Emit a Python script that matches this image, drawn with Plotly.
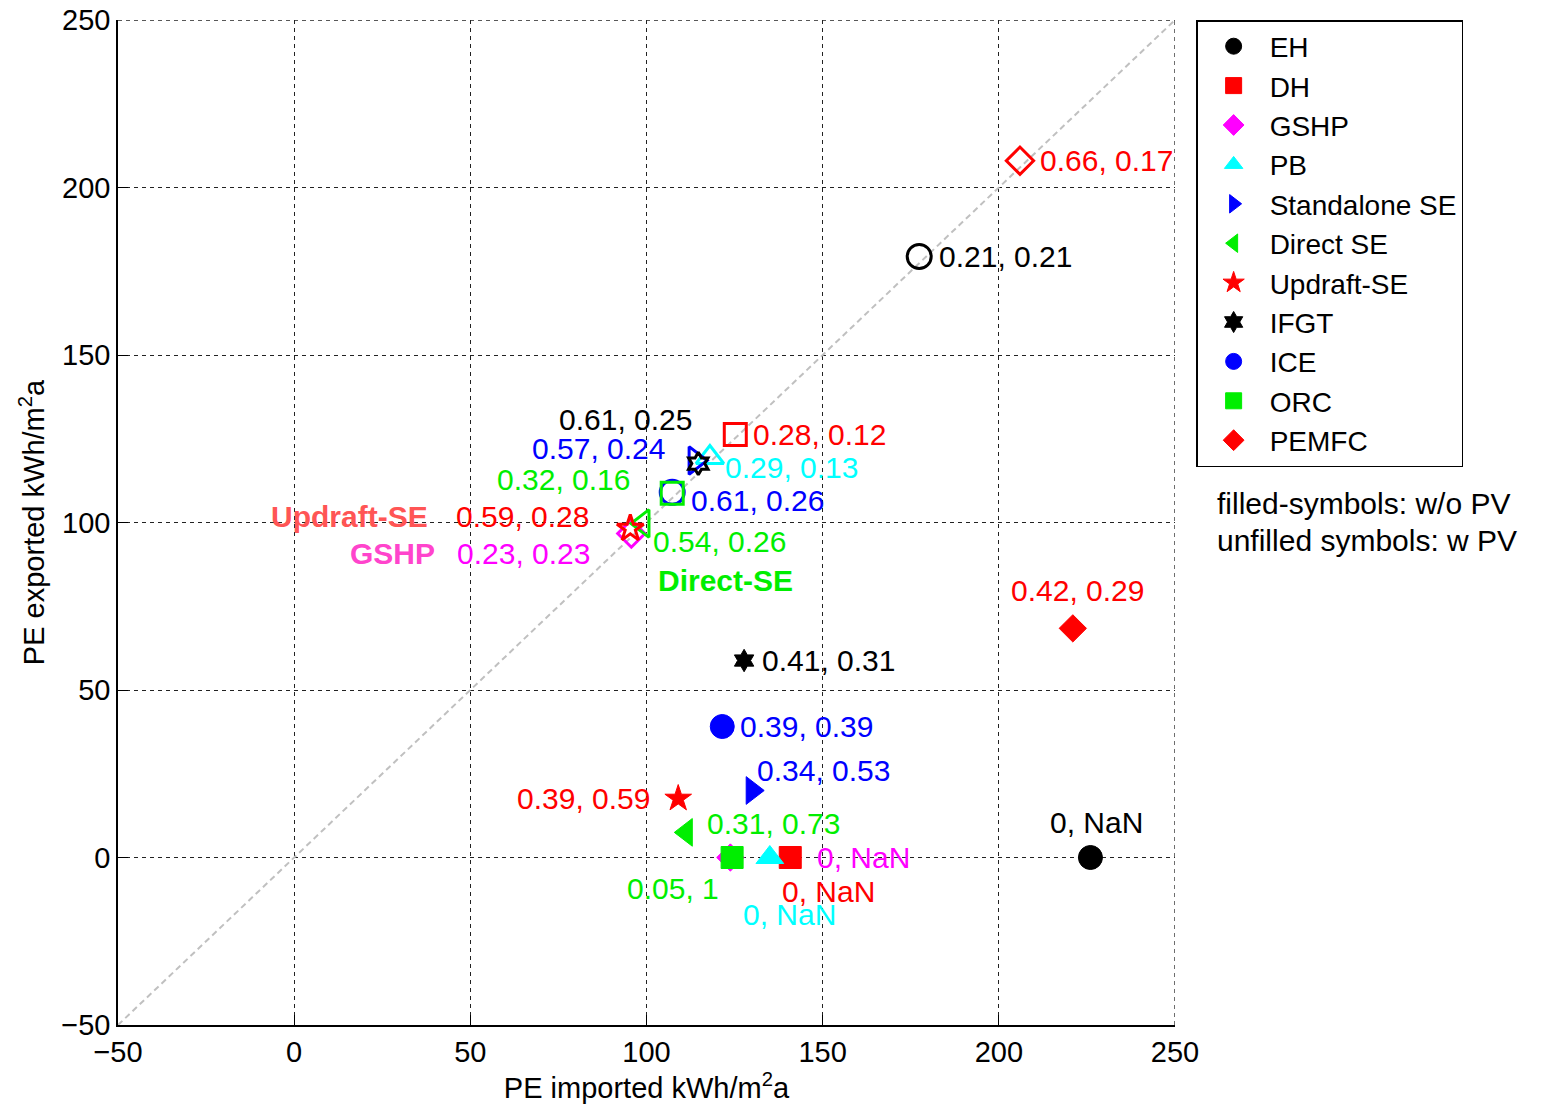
import plotly.graph_objects as go

# ---------------- data ----------------
systems = ["EH", "DH", "GSHP", "PB", "Standalone SE", "Direct SE",
           "Updraft-SE", "IFGT", "ICE", "ORC", "PEMFC"]

# without PV (filled symbols)
imp_noPV = [226, 140.8, 123.8, 135, 130, 111.3, 109, 127.7, 121.5, 124.3, 221]
exp_noPV = [0, 0, 0, 0, 20, 7.5, 17.6, 58.8, 39.1, 0, 68.4]
lab_noPV = ["0, NaN", "0, NaN", "0, NaN", "0, NaN", "0.34, 0.53", "0.31, 0.73",
            "0.39, 0.59", "0.41, 0.31", "0.39, 0.39", "0.05, 1", "0.42, 0.29"]

# with PV (unfilled symbols)
imp_PV = [177.4, 125.2, 95.7, 118, 113.8, 99, 95.4, 114.7, 107.3, 107.3, 206]
exp_PV = [179.4, 126.3, 96.7, 119.4, 118.5, 99.7, 98.2, 117.6, 109, 108.7, 208]
lab_PV = ["0.21, 0.21", "0.28, 0.12", "0.23, 0.23", "0.29, 0.13", "0.57, 0.24",
          "0.54, 0.26", "0.59, 0.28", "0.61, 0.25", "0.61, 0.26", "0.32, 0.16",
          "0.66, 0.17"]

# bold name labels attached to with-PV points
name_labels = {"Updraft-SE": "Updraft-SE", "GSHP": "GSHP", "Direct SE": "Direct-SE"}

diag = [-50, 250]
ticks = [-50, 0, 50, 100, 150, 200, 250]

# ---------------- styles ----------------
colors = ["#000000", "#ff0000", "#ff00ff", "#00ffff", "#0000ff", "#00ee00",
          "#ff0000", "#000000", "#0000ff", "#00ee00", "#ff0000"]
symbols = ["circle", "square", "diamond", "triangle-up", "triangle-right",
           "triangle-left", "star", "hexagram", "circle", "square", "diamond"]
sizes = [24, 22, 21, 24, 24, 24, 20, 17, 24, 22, 21]

# label placement (anchor, xshift px, yshift px)
pos_noPV = [("center", 6, 35), ("center", 38, -34), ("left", 85, 0),
            ("center", 20, -57), ("left", 3, 20), ("left", 19, 9),
            ("right", -26, 0), ("left", 16, 0), ("left", 16, 0),
            ("center", -59, -31), ("center", 5, 38)]
pos_PV = [("left", 18, 0), ("left", 16, 0), ("right", -39, -20),
          ("left", 13, -10), ("right", -28, 12), ("left", 8, -18),
          ("right", -39, 12), ("center", -73, 44), ("left", 17, -8),
          ("right", -40, 14), ("left", 18, 0)]
pos_names = {"Updraft-SE": ("right", -200, 12, "#ff5555"),
             "GSHP": ("right", -194, -20, "#ff44cc"),
             "Direct SE": ("left", 13, -57, "#00ee00")}

FONT = "Liberation Sans, Arial, sans-serif"
FS = 30
TFS = 29
GRID = dict(color="#222222", width=1.3, dash="4px,4px")

fig = go.Figure()

fig.add_trace(go.Scatter(x=diag, y=diag, mode="lines", showlegend=False,
                         line=dict(color="#c0c0c0", width=2, dash="6px,4px"),
                         hoverinfo="skip"))

for i, name in enumerate(systems):
    fig.add_trace(go.Scatter(
        x=[imp_noPV[i]], y=[exp_noPV[i]], mode="markers", name=name,
        marker=dict(symbol=symbols[i], size=sizes[i], color=colors[i],
                    line=dict(color=colors[i], width=1))))
    fig.add_trace(go.Scatter(
        x=[imp_PV[i]], y=[exp_PV[i]], mode="markers", name=name + " (PV)",
        showlegend=False,
        marker=dict(symbol=symbols[i] + "-open", size=sizes[i], color=colors[i],
                    line=dict(color=colors[i], width=3))))

annotations = []
for i, name in enumerate(systems):
    a, xs, ys = pos_noPV[i]
    annotations.append(dict(x=imp_noPV[i], y=exp_noPV[i], xref="x", yref="y",
                            text=lab_noPV[i], showarrow=False, xanchor=a,
                            yanchor="middle", xshift=xs, yshift=ys,
                            font=dict(color=colors[i], size=FS, family=FONT)))
    a, xs, ys = pos_PV[i]
    annotations.append(dict(x=imp_PV[i], y=exp_PV[i], xref="x", yref="y",
                            text=lab_PV[i], showarrow=False, xanchor=a,
                            yanchor="middle", xshift=xs, yshift=ys,
                            font=dict(color=colors[i], size=FS, family=FONT)))
    if name in name_labels:
        a, xs, ys, c = pos_names[name]
        annotations.append(dict(x=imp_PV[i], y=exp_PV[i], xref="x", yref="y",
                                text="<b>" + name_labels[name] + "</b>",
                                showarrow=False, xanchor=a, yanchor="middle",
                                xshift=xs, yshift=ys,
                                font=dict(color=c, size=FS, family=FONT)))

annotations.append(dict(x=1.0378, y=0.5194, xref="paper", yref="paper",
                        text="filled-symbols: w/o PV", showarrow=False,
                        xanchor="left", yanchor="middle",
                        font=dict(color="black", size=30, family=FONT)))
annotations.append(dict(x=1.0378, y=0.4816, xref="paper", yref="paper",
                        text="unfilled symbols: w PV", showarrow=False,
                        xanchor="left", yanchor="middle",
                        font=dict(color="black", size=30, family=FONT)))

# grid lines on the top / right edges (tick value 250)
shapes = [
    dict(type="line", xref="paper", yref="y", x0=0, x1=1,
         y0=ticks[-1], y1=ticks[-1], line=GRID, layer="below"),
    dict(type="line", xref="x", yref="paper", x0=ticks[-1], x1=ticks[-1],
         y0=0, y1=1, line=GRID, layer="below"),
]

axis_common = dict(range=[-50, 250], tickvals=ticks, ticks="inside", ticklen=10,
                   tickcolor="black", showline=True, linecolor="black",
                   linewidth=1.5, showgrid=True, gridcolor=GRID["color"],
                   gridwidth=GRID["width"], griddash=GRID["dash"],
                   zeroline=False, automargin=False,
                   ticklabeloverflow="allow",
                   tickfont=dict(size=TFS, color="black", family=FONT))

fig.update_layout(
    width=1543, height=1104,
    margin=dict(l=110, r=376, t=12, b=87, autoexpand=False),
    paper_bgcolor="white", plot_bgcolor="white",
    font=dict(family=FONT, size=FS, color="black"),
    xaxis=dict(**axis_common,
               title=dict(text="PE imported kWh/m<sup>2</sup>a", standoff=2,
                          font=dict(size=TFS, color="black", family=FONT))),
    yaxis=dict(**axis_common,
               title=dict(text="PE exported kWh/m<sup>2</sup>a", standoff=8,
                          font=dict(size=TFS, color="black", family=FONT))),
    legend=dict(x=1.02, y=1, xanchor="left", yanchor="top",
                bordercolor="black", borderwidth=1.5, bgcolor="white",
                font=dict(size=28, color="black", family=FONT),
                itemwidth=62, tracegroupgap=0),
    annotations=annotations,
    shapes=shapes,
    showlegend=True,
)

fig.write_html("out.html")
